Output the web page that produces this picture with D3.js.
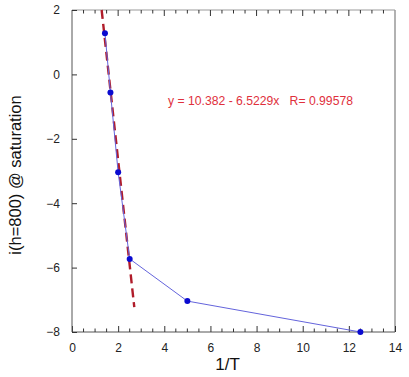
<!DOCTYPE html>
<html>
<head>
<meta charset="utf-8">
<script src="https://cdn.jsdelivr.net/npm/d3@7"></script>
<style>
html,body{margin:0;padding:0;background:#fff;}
svg{display:block;}
</style>
</head>
<body>
<svg id="chart" width="409" height="377"></svg>
<script>
// Data
const invT = [1.4286, 1.6667, 2.0, 2.5, 5.0, 12.5];
const iSat = [1.28, -0.56, -3.04, -5.73, -7.04, -8.0];
const fitIntercept = 10.382;
const fitSlope = -6.5229;
const fitXRange = [1.285, 2.70];
const xTicks = [0, 2, 4, 6, 8, 10, 12, 14];
const yTicks = [-8, -6, -4, -2, 0, 2];
const fitLabel = "y = 10.382 - 6.5229x   R= 0.99578";
const xTitle = "1/T";
const yTitle = "i(h=800) @ saturation";

const svg = d3.select("#chart");
const L = 72, R = 395, T = 10, B = 332;
const x = d3.scaleLinear().domain([0, 14]).range([L, R]);
const y = d3.scaleLinear().domain([-8, 2]).range([B, T]);

const font = "'Liberation Sans', Arial, sans-serif";

// frame
svg.append("line").attr("x1", L).attr("x2", R).attr("y1", T).attr("y2", T)
  .attr("stroke", "#999").attr("stroke-width", 1.2);
svg.append("line").attr("x1", R).attr("x2", R).attr("y1", T).attr("y2", B)
  .attr("stroke", "#999").attr("stroke-width", 1.5);

// bottom axis
const minorX = d3.range(0, 14.01, 0.5).filter(v => Math.abs(v % 2) > 1e-6);
const xAxis = d3.axisBottom(x).tickValues(xTicks).tickSize(-6).tickPadding(11)
  .tickFormat(d3.format("d"));
const gx = svg.append("g").attr("transform", `translate(0,${B})`).call(xAxis);
gx.select(".domain").attr("stroke", "#555").attr("d", `M${L},0H${R}`);
gx.selectAll(".tick line").attr("stroke", "#333");
gx.selectAll(".tick text").attr("font-family", font).attr("font-size", 12).attr("fill", "#222");
gx.selectAll(".minor").data(minorX).enter().append("line")
  .attr("x1", d => x(d)).attr("x2", d => x(d)).attr("y1", 0).attr("y2", -3.5)
  .attr("stroke", "#333");

// top ticks
const gt = svg.append("g").attr("transform", `translate(0,${T})`);
gt.selectAll(".maj").data(xTicks.filter(d => d > 0 && d < 14)).enter().append("line")
  .attr("x1", d => x(d)).attr("x2", d => x(d)).attr("y1", 0).attr("y2", 6).attr("stroke", "#333");
gt.selectAll(".min").data(minorX).enter().append("line")
  .attr("x1", d => x(d)).attr("x2", d => x(d)).attr("y1", 0).attr("y2", 3.5).attr("stroke", "#333");

// left axis
const yAxis = d3.axisLeft(y).tickValues(yTicks).tickSize(-5).tickPadding(12)
  .tickFormat(d3.format("d"));
const gy = svg.append("g").attr("transform", `translate(${L},0)`).call(yAxis);
gy.select(".domain").attr("stroke", "#555").attr("d", `M0,${T}V${B}`);
gy.selectAll(".tick line").attr("stroke", "#333");
gy.selectAll(".tick text").attr("font-family", font).attr("font-size", 12).attr("fill", "#222");

// fit line
const fitPts = fitXRange.map(v => [v, fitIntercept + fitSlope * v]);
svg.append("path")
  .attr("d", d3.line().x(d => x(d[0])).y(d => y(d[1]))(fitPts))
  .attr("stroke", "#b01c2a").attr("stroke-width", 2.4).attr("fill", "none")
  .attr("stroke-dasharray", "9,5");

// data line
const pts = invT.map((v, i) => [v, iSat[i]]);
svg.append("path")
  .attr("d", d3.line().x(d => x(d[0])).y(d => y(d[1]))(pts))
  .attr("stroke", "#6464dc").attr("stroke-width", 1).attr("fill", "none");
svg.selectAll(".pt").data(pts).enter().append("circle")
  .attr("cx", d => x(d[0])).attr("cy", d => y(d[1])).attr("r", 3)
  .attr("fill", "#0a0ad0");

// fit label
svg.append("text").attr("x", 260.5).attr("y", 105).attr("text-anchor", "middle")
  .attr("font-family", font).attr("font-size", 12.2).attr("fill", "#e0303c")
  .attr("xml:space", "preserve").style("white-space", "pre")
  .text(fitLabel);

// axis titles
svg.append("text").attr("x", (L + R) / 2 - 6).attr("y", 370).attr("text-anchor", "middle")
  .attr("font-family", font).attr("font-size", 17).attr("fill", "#111").text(xTitle);
svg.append("text").attr("transform", `translate(21,${(T + B) / 2 + 4}) rotate(-90)`)
  .attr("text-anchor", "middle")
  .attr("font-family", font).attr("font-size", 16.5).attr("fill", "#111").text(yTitle);
</script>
</body>
</html>
